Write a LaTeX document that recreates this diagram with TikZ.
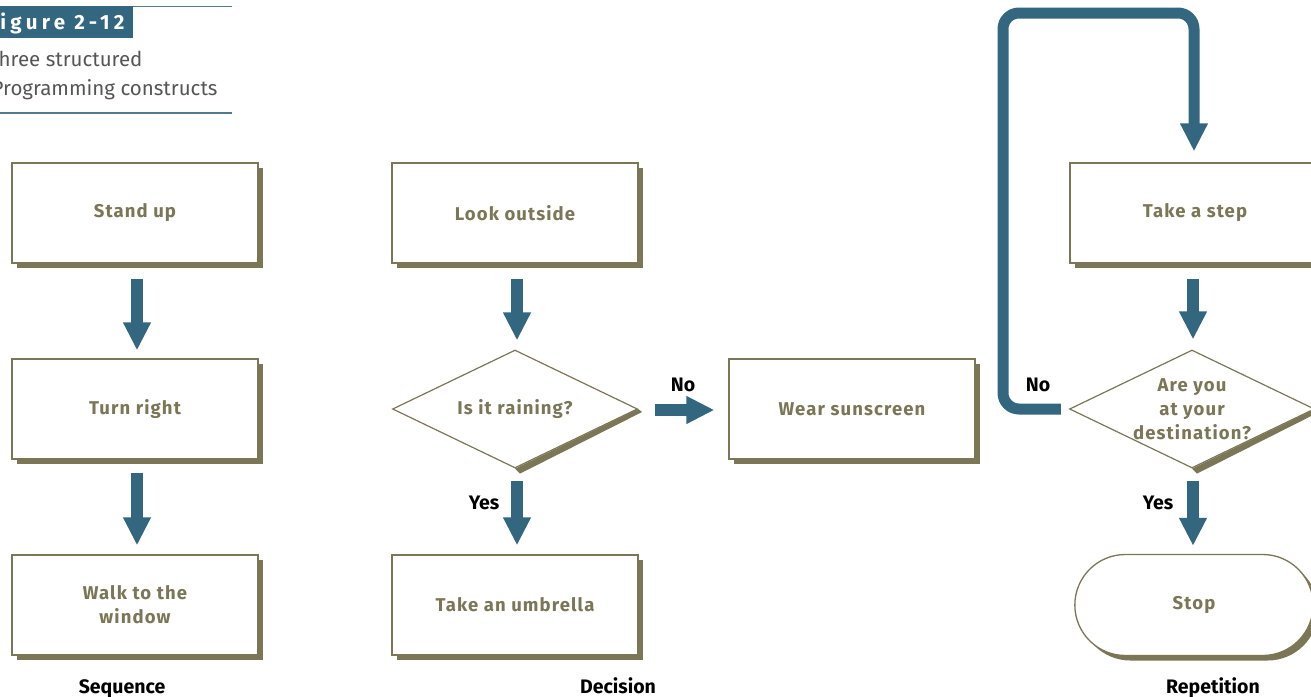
\documentclass[tikz,border=0pt]{standalone}
\usepackage{fontspec}
\setmainfont{Fira Sans}
\usetikzlibrary{shapes.geometric,shapes.misc,shadows,arrows.meta,calc}
\definecolor{olivebox}{HTML}{7A7656}
\definecolor{flowblue}{HTML}{33667F}
\definecolor{rulegray}{HTML}{4F7A91}
\definecolor{captext}{HTML}{555555}
\newfontfamily\boxfont[LetterSpace=6]{Fira Sans}
\tikzset{
  boxshadow/.style={drop shadow={shadow xshift=5pt,shadow yshift=-5pt,fill=olivebox,opacity=1}},
  boxtext/.style={align=center,text=olivebox,font=\boxfont\bfseries\fontsize{18.5}{24}\selectfont},
  stepbox/.style={draw=olivebox,line width=1.3pt,fill=white,minimum width=246pt,minimum height=100pt,
    boxtext,boxshadow},
  choice/.style={diamond,draw=olivebox,line width=1.2pt,fill=white,inner sep=0pt,
    minimum width=245pt,minimum height=118pt},
  terminal/.style={rounded rectangle,draw=olivebox,line width=1.3pt,fill=white,
    minimum width=245pt,minimum height=101pt,boxtext,boxshadow},
  flow/.style={draw=flowblue,line width=12pt,-{Triangle[length=28pt,width=26pt]}},
  branch/.style={font=\bfseries\fontsize{19.5}{22}\selectfont,text=black},
  caption/.style={anchor=base,font=\bfseries\fontsize{19.5}{22}\selectfont,text=black},
}
\begin{document}
\begin{tikzpicture}[x=1pt,y=-1pt]
\useasboundingbox (0,0) rectangle (1311,696);
\clip (0,0) rectangle (1311,696);

% figure heading
\fill[flowblue] (0,6) rectangle (133,38);
\draw[rulegray,line width=1.5pt] (133,6.5) -- (232,6.5);
\node[anchor=base east,text=white,font=\bfseries\addfontfeature{LetterSpace=21}\fontsize{20.5}{24}\selectfont]
  (figno) at (128,29) {Figure 2-12};
\node[anchor=base east,text=captext,font=\fontsize{20.5}{24}\selectfont] (title1) at (146,66) {Three structured};
\node[anchor=base east,text=captext,font=\fontsize{20.5}{24}\selectfont] (title2) at (221,95) {Programming constructs};
\draw[rulegray,line width=2.5pt] (0,113) -- (232,113);

% sequence
\node[stepbox] (stand) at (135,213) {Stand up};
\node[stepbox] (turn) at (135,409) {Turn right};
\node[stepbox] (walk) at (135,605) {Walk to the\\window};
\draw[flow] ([xshift=2pt,yshift=-15pt]stand.south) -- ([xshift=2pt,yshift=8pt]turn.north);
\draw[flow] ([xshift=2pt,yshift=-13pt]turn.south) -- ([xshift=2pt,yshift=9pt]walk.north);
\node[caption] (seq) at (122,693) {Sequence};

% decision
\node[stepbox] (look) at (515,213) {Look outside};
\node[choice,label={[boxtext]center:Is it raining?}] (rain) at (515,409) {};
\fill[olivebox] (rain.east) -- ++(4,3) -- ($(rain.south)+(5,5)$) -- (rain.south) -- cycle;
\node[stepbox] (umbrella) at (515,605) {Take an umbrella};
\node[stepbox] (sun) at (852,409) {Wear sunscreen};
\draw[flow] ([xshift=2pt,yshift=-15pt]look.south) -- ([xshift=2pt,yshift=9pt]rain.north);
\draw[flow] ([xshift=2pt,yshift=-12pt]rain.south) -- ([xshift=2pt,yshift=9pt]umbrella.north);
\draw[flow] ([xshift=17pt,yshift=-1pt]rain.east) -- ([xshift=-14pt,yshift=-1pt]sun.west);
\node[branch] (rainno) at (683,385) {No};
\node[branch] (rainyes) at (484,503) {Yes};
\node[caption] (dec) at (618,693) {Decision};

% repetition
\node[stepbox,minimum width=250pt] (step) at (1195,213) {Take a step};
\node[choice,label={[boxtext]center:Are you\\at your\\destination?}] (dest) at (1192,409) {};
\fill[olivebox] (dest.east) -- ++(4,3) -- ($(dest.south)+(5,5)$) -- (dest.south) -- cycle;
\node[terminal] (stop) at (1194,605) {Stop};
\draw[flow] ([xshift=-2pt,yshift=-15pt]step.south) -- ([xshift=1pt,yshift=10pt]dest.north);
\draw[flow] ([xshift=1pt,yshift=-12pt]dest.south) -- ([xshift=-1pt,yshift=8pt]stop.north);
\coordinate (looptop) at (1003,13);
\draw[flow,rounded corners=16pt,line width=11pt]
  ([xshift=-8pt]dest.west) -| (looptop) -| ([xshift=-1pt,yshift=11pt]step.north);
\node[branch] (destno) at (1038,385) {No};
\node[branch] (destyes) at (1158,503) {Yes};
\node[caption] (rep) at (1213,693) {Repetition};
\end{tikzpicture}
\end{document}
